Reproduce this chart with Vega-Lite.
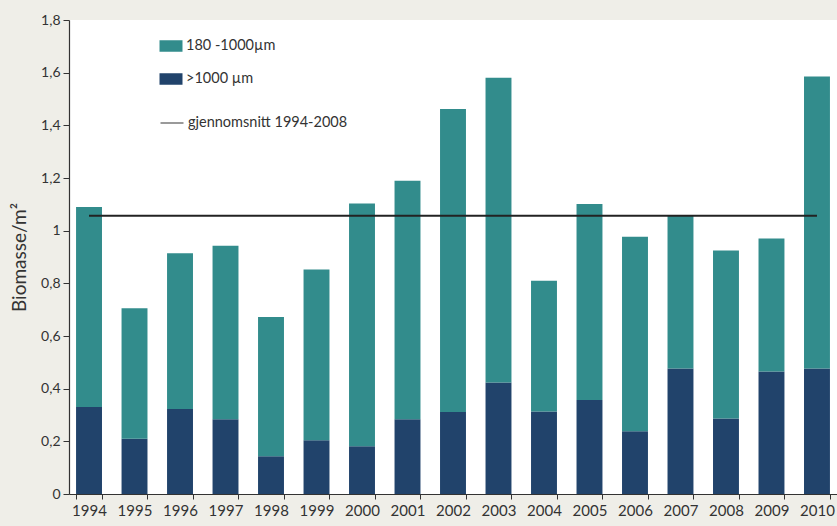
{
  "$schema": "https://vega.github.io/schema/vega-lite/v6.json",
  "autosize": {"type": "none"},
  "padding": {"left": 69, "top": 20, "right": 0, "bottom": 32},
  "width": 768,
  "height": 474,
  "background": "#efeee8",
  "config": {
    "view": {"fill": "white", "stroke": null},
    "font": "Lato",
    "axis": {"labelFont": "Lato", "titleFont": "Lato", "labelColor": "#333", "titleColor": "#333", "domainColor": "#333", "tickColor": "#333", "grid": false}
  },
  "datasets": {
    "bars": [
      {"year": "1994", "klasse": ">1000 µm", "ord": 1, "value": 0.33},
      {"year": "1994", "klasse": "180 -1000µm", "ord": 2, "value": 0.76},
      {"year": "1995", "klasse": ">1000 µm", "ord": 1, "value": 0.21},
      {"year": "1995", "klasse": "180 -1000µm", "ord": 2, "value": 0.495},
      {"year": "1996", "klasse": ">1000 µm", "ord": 1, "value": 0.323},
      {"year": "1996", "klasse": "180 -1000µm", "ord": 2, "value": 0.591},
      {"year": "1997", "klasse": ">1000 µm", "ord": 1, "value": 0.284},
      {"year": "1997", "klasse": "180 -1000µm", "ord": 2, "value": 0.659},
      {"year": "1998", "klasse": ">1000 µm", "ord": 1, "value": 0.143},
      {"year": "1998", "klasse": "180 -1000µm", "ord": 2, "value": 0.529},
      {"year": "1999", "klasse": ">1000 µm", "ord": 1, "value": 0.204},
      {"year": "1999", "klasse": "180 -1000µm", "ord": 2, "value": 0.649},
      {"year": "2000", "klasse": ">1000 µm", "ord": 1, "value": 0.181},
      {"year": "2000", "klasse": "180 -1000µm", "ord": 2, "value": 0.922},
      {"year": "2001", "klasse": ">1000 µm", "ord": 1, "value": 0.284},
      {"year": "2001", "klasse": "180 -1000µm", "ord": 2, "value": 0.906},
      {"year": "2002", "klasse": ">1000 µm", "ord": 1, "value": 0.311},
      {"year": "2002", "klasse": "180 -1000µm", "ord": 2, "value": 1.151},
      {"year": "2003", "klasse": ">1000 µm", "ord": 1, "value": 0.423},
      {"year": "2003", "klasse": "180 -1000µm", "ord": 2, "value": 1.158},
      {"year": "2004", "klasse": ">1000 µm", "ord": 1, "value": 0.313},
      {"year": "2004", "klasse": "180 -1000µm", "ord": 2, "value": 0.497},
      {"year": "2005", "klasse": ">1000 µm", "ord": 1, "value": 0.357},
      {"year": "2005", "klasse": "180 -1000µm", "ord": 2, "value": 0.744},
      {"year": "2006", "klasse": ">1000 µm", "ord": 1, "value": 0.238},
      {"year": "2006", "klasse": "180 -1000µm", "ord": 2, "value": 0.739},
      {"year": "2007", "klasse": ">1000 µm", "ord": 1, "value": 0.477},
      {"year": "2007", "klasse": "180 -1000µm", "ord": 2, "value": 0.579},
      {"year": "2008", "klasse": ">1000 µm", "ord": 1, "value": 0.287},
      {"year": "2008", "klasse": "180 -1000µm", "ord": 2, "value": 0.638},
      {"year": "2009", "klasse": ">1000 µm", "ord": 1, "value": 0.465},
      {"year": "2009", "klasse": "180 -1000µm", "ord": 2, "value": 0.505},
      {"year": "2010", "klasse": ">1000 µm", "ord": 1, "value": 0.477},
      {"year": "2010", "klasse": "180 -1000µm", "ord": 2, "value": 1.108}
    ],
    "avg": [
      {"from": "1994", "to": "2010", "label": "gjennomsnitt 1994-2008", "value": 1.057}
    ]
  },
  "layer": [
    {
      "data": {"name": "bars"},
      "mark": {"type": "bar"},
      "encoding": {
        "x": {
          "field": "year", "type": "ordinal",
          "scale": {"paddingInner": 0.43, "paddingOuter": 0.155},
          "axis": {"title": null, "labelAngle": 0, "labelFontSize": 15, "labelPadding": 4, "tickSize": 5, "tickBand": "extent", "domainWidth": 1.2, "labelOverlap": false}
        },
        "y": {
          "field": "value", "type": "quantitative", "stack": "zero",
          "scale": {"domain": [0, 1.8], "nice": false},
          "axis": {"title": "Biomasse/m²", "titleFontSize": 19, "titleFontWeight": "normal", "titlePadding": 11, "labelFontSize": 14, "values": [0, 0.2, 0.4, 0.6, 0.8, 1, 1.2, 1.4, 1.6, 1.8], "labelExpr": "replace(format(datum.value, '.1~f'), '.', ',')", "labelOverlap": false, "tickSize": 6, "labelPadding": 3, "domainWidth": 1.2}
        },
        "color": {
          "field": "klasse", "type": "nominal",
          "scale": {"domain": ["180 -1000µm", ">1000 µm"], "range": ["#328c8c", "#21436b"]},
          "legend": {
            "title": null, "orient": "none", "legendX": 90.5, "legendY": 14.5,
            "symbolType": "M-1,-0.5H1V0.5H-1Z", "symbolSize": 529, "symbolStrokeWidth": 0,
            "rowPadding": 15, "labelOffset": 3.5, "labelFontSize": 14.5, "labelColor": "#333", "labelFont": "Lato"
          }
        },
        "order": {"field": "ord", "type": "quantitative"}
      }
    },
    {
      "data": {"name": "avg"},
      "mark": {"type": "rule", "strokeWidth": 2},
      "encoding": {
        "x": {"field": "from", "type": "ordinal"},
        "x2": {"field": "to"},
        "y": {"field": "value", "type": "quantitative"},
        "stroke": {
          "field": "label", "type": "nominal",
          "scale": {"range": ["#222222"]},
          "legend": {
            "title": null, "orient": "none", "legendX": 90.5, "legendY": 90.5,
            "symbolType": "stroke", "symbolSize": 529, "symbolStrokeWidth": 2, "symbolOpacity": 0.45,
            "labelOffset": 3.5, "labelFontSize": 14.5, "labelColor": "#333", "labelFont": "Lato"
          }
        }
      }
    }
  ]
}
